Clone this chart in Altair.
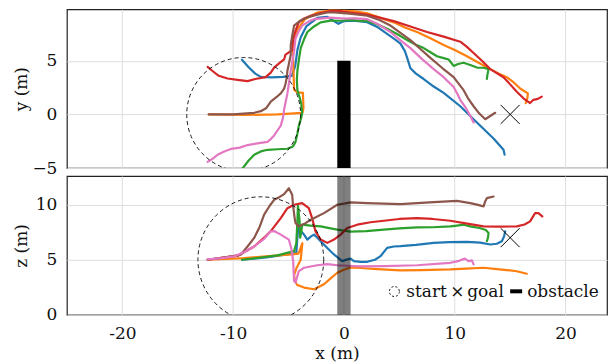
import altair as alt
import pandas as pd

FONT = "DejaVu Serif"
RUNS = ["run 1", "run 2", "run 3", "run 4", "run 5", "run 6"]
COLORS = ["#1f77b4", "#ff7f0e", "#2ca02c", "#d62728", "#8c564b", "#e377c2"]

X_TICKS = [-20, -10, 0, 10, 20]
Y_TICKS = [-5, 0, 5]
Z_TICKS = [0, 5, 10]

# ---------- top panel: (x, y) of each run ----------
blue_xy = [(-9.2, 5.1), (-8.6, 4.4), (-8.0, 3.8), (-7.5, 3.5), (-6.5, 3.45), (-5.5, 3.5), (-4.7, 3.6),
           (-4.4, 4.5), (-4.2, 6.0), (-3.9, 7.2), (-3.4, 8.2), (-2.4, 9.0), (-1.5, 9.1), (-0.9, 8.7),
           (-0.5, 8.45), (0.0, 8.7), (0.9, 8.75), (2.1, 8.6), (3.1, 8.1), (3.9, 7.5), (4.6, 7.0),
           (5.1, 6.6), (5.5, 5.9), (5.7, 5.3), (6.0, 4.3), (6.5, 3.8), (7.2, 3.3), (8.1, 2.6),
           (9.0, 2.0), (10.5, 0.76), (12.0, -0.75), (13.5, -2.25), (14.4, -3.3), (14.5, -3.75)]
orange_xy = [(-12.2, 0.0), (-9.0, -0.05), (-6.0, 0.0), (-4.5, 0.1), (-3.75, 0.15), (-3.65, 0.6),
             (-3.7, 2.0), (-4.2, 2.05), (-4.5, 2.3), (-4.55, 4.0), (-4.6, 5.5), (-4.55, 6.8),
             (-4.2, 7.9), (-3.5, 8.9), (-2.4, 9.5), (-1.2, 9.7), (0.0, 9.65), (1.0, 9.6), (2.1, 9.43),
             (3.3, 9.0), (4.5, 8.58), (5.5, 8.1), (6.6, 7.68), (7.8, 7.1), (9.0, 6.48), (10.0, 6.0),
             (11.1, 5.42), (12.2, 4.8), (13.2, 4.22), (14.0, 3.8), (14.7, 3.47), (15.3, 3.0),
             (15.9, 2.41), (16.6, 1.96), (16.55, 1.5), (16.4, 1.05)]
green_xy = [(-9.2, -5.1), (-8.6, -4.3), (-8.1, -3.76), (-7.5, -3.45), (-6.9, -3.3), (-6.0, -3.25),
            (-5.1, -3.2), (-4.6, -3.0), (-4.37, -2.56), (-4.2, -1.8), (-4.07, -1.05), (-3.85, -0.3),
            (-3.77, 0.15), (-3.85, 1.0), (-4.0, 1.6), (-4.2, 2.26), (-4.25, 3.2), (-4.2, 4.07),
            (-4.05, 5.2), (-3.9, 6.18), (-3.6, 7.0), (-3.3, 7.68), (-2.7, 8.2), (-2.1, 8.58),
            (-1.2, 8.75), (-0.3, 8.73), (0.5, 8.8), (1.2, 8.75), (2.1, 8.7), (3.0, 8.4), (3.9, 7.98),
            (4.8, 7.5), (5.7, 6.93), (6.5, 6.5), (7.2, 6.18), (7.8, 5.8), (8.4, 5.42), (9.0, 5.25),
            (9.45, 5.12), (9.9, 4.52), (10.3, 4.7), (10.8, 4.82), (11.4, 4.6), (12.0, 4.37),
            (12.6, 4.35), (13.05, 4.22), (12.95, 3.7), (12.9, 3.32)]
red_xy = [(-12.3, 4.43), (-11.8, 4.0), (-11.3, 3.6), (-10.5, 3.35), (-9.6, 3.22), (-8.7, 3.1),
          (-8.0, 3.3), (-7.07, 3.47), (-6.6, 3.9), (-6.3, 4.37), (-5.8, 4.8), (-5.4, 5.12),
          (-5.27, 5.57), (-4.67, 6.0), (-4.6, 6.8), (-4.5, 7.4), (-4.3, 8.0), (-4.07, 8.58),
          (-3.6, 8.95), (-3.0, 9.2), (-2.1, 9.45), (-1.2, 9.64), (-0.5, 9.65), (0.5, 9.5), (2.1, 9.3),
          (3.3, 9.0), (4.5, 8.7), (6.0, 8.2), (7.5, 7.68), (9.0, 7.25), (10.5, 6.78), (11.1, 6.3),
          (11.7, 5.72), (12.5, 4.95), (13.2, 4.22), (14.4, 3.47), (15.0, 2.8), (15.6, 2.11),
          (16.2, 1.5), (16.8, 1.06), (17.1, 1.36), (17.5, 1.45), (17.85, 1.66)]
brown_xy = [(-12.2, 0.0), (-10.0, 0.0), (-8.1, 0.15), (-7.5, 0.3), (-7.0, 0.6), (-6.6, 1.2),
            (-6.1, 1.6), (-5.7, 1.96), (-5.4, 2.4), (-5.27, 2.86), (-5.15, 3.5), (-5.1, 4.07),
            (-4.95, 4.8), (-4.8, 5.57), (-4.8, 6.5), (-4.65, 7.4), (-4.5, 8.28), (-4.0, 8.7),
            (-3.3, 9.03), (-2.4, 9.3), (-1.5, 9.5), (-0.9, 9.5), (0.5, 9.4), (2.1, 9.2), (3.2, 8.8),
            (4.2, 8.28), (5.1, 7.6), (6.0, 6.93), (6.9, 6.1), (7.8, 5.27), (8.9, 4.3), (9.9, 3.47),
            (10.4, 2.8), (10.8, 2.26), (11.2, 1.5), (11.7, 0.76), (12.2, 0.1), (12.75, -0.45),
            (13.2, -0.15), (13.65, 0.15)]
pink_xy = [(-12.3, -4.43), (-11.8, -4.1), (-11.4, -3.76), (-10.8, -3.45), (-10.2, -3.22), (-9.4, -3.1),
           (-8.7, -2.86), (-7.8, -2.7), (-6.9, -2.56), (-6.6, -2.3), (-6.3, -1.96), (-6.0, -1.5),
           (-5.7, -1.05), (-5.5, -0.3), (-5.4, 0.45), (-5.25, 1.2), (-5.1, 1.96), (-4.95, 3.0),
           (-4.8, 4.07), (-4.65, 5.0), (-4.5, 5.87), (-4.37, 7.08), (-4.1, 7.7), (-3.77, 8.28),
           (-3.2, 8.65), (-2.7, 8.88), (-1.2, 9.03), (0.0, 8.94), (1.0, 8.95), (2.1, 8.88), (3.1, 8.4),
           (4.2, 7.68), (5.1, 6.9), (6.0, 6.18), (7.0, 5.2), (8.1, 4.22), (9.0, 3.47), (9.9, 2.56),
           (10.2, 2.0), (10.5, 1.36), (11.0, 0.6), (11.25, 0.15), (11.7, -0.75)]

# ---------- bottom panel: (x, z) of each run ----------
blue_xz = [(-9.2, 5.0), (-7.0, 5.2), (-5.0, 5.5), (-4.3, 5.6), (-4.2, 7.0), (-4.1, 8.2), (-3.9, 7.6),
           (-3.6, 7.28), (-3.3, 6.83), (-3.0, 7.1), (-2.7, 7.28), (-2.4, 7.0), (-2.1, 6.68),
           (-1.5, 6.07), (-0.9, 5.48), (-0.16, 4.87), (0.3, 5.03), (0.6, 5.1), (0.9, 4.87), (1.5, 4.8),
           (2.1, 4.81), (2.8, 5.0), (3.3, 5.32), (3.9, 6.07), (4.5, 6.2), (5.1, 6.23), (6.5, 6.35),
           (8.1, 6.53), (9.5, 6.6), (11.1, 6.62), (12.3, 6.55), (13.2, 6.38), (13.8, 6.45),
           (14.25, 6.68), (14.45, 7.1), (14.55, 7.58)]
orange_xz = [(-12.2, 5.0), (-9.0, 5.15), (-6.5, 5.35), (-4.5, 5.5), (-4.1, 5.55), (-3.75, 6.5),
             (-3.9, 5.0), (-4.3, 4.2), (-4.5, 3.6), (-4.4, 3.0), (-4.2, 2.7), (-3.6, 2.47),
             (-2.7, 2.32), (-1.8, 2.77), (-1.2, 3.3), (-0.6, 3.82), (0.0, 4.1), (0.6, 4.3), (1.5, 4.25),
             (3.0, 4.15), (5.1, 4.03), (7.0, 4.05), (9.6, 4.12), (11.0, 4.2), (12.6, 4.27), (13.8, 4.15),
             (14.7, 4.06), (15.6, 3.95), (16.5, 3.73)]
green_xz = [(-9.2, 5.0), (-7.5, 5.2), (-6.0, 5.4), (-4.5, 5.78), (-4.3, 6.5), (-4.2, 8.5),
            (-4.15, 9.9), (-4.0, 8.5), (-3.95, 7.0), (-3.85, 7.5), (-3.77, 8.18), (-3.0, 8.1),
            (-2.1, 8.03), (-1.2, 7.85), (-0.6, 7.73), (0.6, 7.55), (2.0, 7.6), (3.6, 7.73), (5.0, 7.85),
            (6.6, 7.94), (8.0, 7.95), (9.6, 8.03), (10.2, 8.1), (10.8, 8.18), (11.5, 8.0),
            (12.25, 7.88), (12.8, 7.7), (13.05, 7.43), (13.0, 7.0), (12.9, 6.68)]
red_xz = [(-12.3, 5.0), (-9.5, 5.4), (-8.1, 6.2), (-7.2, 7.0), (-6.6, 7.6), (-5.7, 8.78), (-5.1, 9.68),
          (-4.5, 9.99), (-3.77, 10.14), (-3.17, 9.68), (-2.87, 8.78), (-2.57, 7.58), (-2.1, 6.83),
          (-1.5, 6.53), (-0.9, 6.83), (-0.3, 7.28), (0.3, 7.88), (1.2, 8.18), (2.4, 8.4), (3.6, 8.54),
          (5.0, 8.7), (6.6, 8.78), (8.0, 8.7), (9.6, 8.54), (11.0, 8.3), (12.6, 8.03), (14.0, 8.0),
          (15.6, 8.03), (16.3, 8.2), (16.8, 8.48), (17.25, 9.23), (17.55, 9.23), (17.9, 8.93)]
brown_xz = [(-12.3, 5.0), (-9.5, 5.4), (-9.3, 5.48), (-8.7, 6.2), (-8.1, 6.98), (-7.6, 8.0),
            (-7.2, 9.09), (-6.7, 9.9), (-6.3, 10.44), (-5.8, 10.7), (-5.4, 10.95), (-4.97, 11.49),
            (-4.67, 10.9), (-4.6, 10.0), (-4.45, 8.8), (-4.37, 8.33), (-4.07, 8.03), (-3.5, 8.3),
            (-3.0, 8.63), (-1.8, 9.23), (-0.6, 9.99), (0.6, 10.2), (2.1, 10.14), (5.1, 10.05),
            (8.1, 10.23), (10.2, 10.35), (11.4, 10.14), (12.0, 10.0), (12.6, 9.84), (12.75, 10.3),
            (12.9, 10.59), (13.5, 10.74)]
pink_xz = [(-12.3, 5.03), (-11.0, 5.15), (-9.9, 5.3), (-9.0, 5.7), (-8.1, 6.2), (-7.2, 6.9),
           (-6.6, 7.58), (-6.3, 7.6), (-5.7, 7.28), (-4.97, 6.83), (-4.76, 6.07), (-4.58, 4.87),
           (-4.5, 3.07), (-4.37, 2.92), (-4.07, 3.97), (-3.6, 4.27), (-2.4, 4.5), (-1.5, 4.6),
           (-0.6, 4.5), (0.3, 4.45), (1.5, 4.4), (3.6, 4.42), (6.6, 4.5), (9.6, 4.72), (10.4, 4.9),
           (10.9, 5.1), (11.25, 4.87), (11.55, 4.94), (11.7, 4.57)]

START_XY = [-9.05, 0.0]
START_XZ = [-7.5, 5.0]
GOAL_XY = [15.0, 0.0]
GOAL_XZ = [15.0, 7.0]
OBSTACLE_X = [-0.6, 0.6]
OBSTACLE_Y = [-5.0, 5.0]
Z_RANGE = [0.0, 12.6]

W = 541
H_TOP = 159
H_BOT = 139


def paths_df(paths, col):
    rows = []
    for run, pts in zip(RUNS, paths):
        for i, (a, b) in enumerate(pts):
            rows.append({"run": run, "i": i, "x": a, col: b})
    return pd.DataFrame(rows)


top_df = paths_df([blue_xy, orange_xy, green_xy, red_xy, brown_xy, pink_xy], "y")
bot_df = paths_df([blue_xz, orange_xz, green_xz, red_xz, brown_xz, pink_xz], "z")

xscale = alt.Scale(domain=[-25, 23.74], nice=False, zero=False)
color = alt.Color("run:N", scale=alt.Scale(domain=RUNS, range=COLORS), legend=None)

x_top = alt.X("x:Q", scale=xscale,
              axis=alt.Axis(values=X_TICKS, labels=False, title=""))
y_top = alt.Y("y:Q", scale=alt.Scale(domain=[-5, 9.8], nice=False, zero=False),
              axis=alt.Axis(values=Y_TICKS, title="y (m)", titleX=-45, titleY=H_TOP / 2,
                            titleAngle=270, titleAlign="center", titleBaseline="middle"))
x_bot = alt.X("x:Q", scale=xscale,
              axis=alt.Axis(values=X_TICKS, title="x (m)", labelPadding=11, titlePadding=4,
                            labelExpr="datum.value < 0 ? '-' + (-datum.value) : '' + datum.value"))
z_bot = alt.Y("z:Q", scale=alt.Scale(domain=[0, 12.6], nice=False, zero=False),
              axis=alt.Axis(values=Z_TICKS, title="z (m)", titleX=-45, titleY=H_BOT / 2,
                            titleAngle=270, titleAlign="center", titleBaseline="middle"))

line_style = dict(strokeWidth=2.2, clip=True, strokeCap="round", strokeJoin="round")
cross = "M-1,-1L1,1M-1,1L1,-1"

# ----- top panel -----
top_obst = alt.Chart(pd.DataFrame({"x": [OBSTACLE_X[0]], "x2": [OBSTACLE_X[1]],
                                   "y": [OBSTACLE_Y[0]], "y2": [OBSTACLE_Y[1]]})).mark_rect(
    color="black").encode(x=x_top, x2="x2:Q", y=y_top, y2="y2:Q")
top_lines = alt.Chart(top_df).mark_line(**line_style).encode(
    x=x_top, y=y_top, color=color, detail="run:N", order="i:Q")
top_start = alt.Chart(pd.DataFrame({"x": [START_XY[0]], "y": [START_XY[1]]})).mark_point(
    shape="circle", size=12996, filled=False, stroke="black", strokeWidth=0.9,
    strokeDash=[4, 3], opacity=1, clip=True).encode(x=x_top, y=y_top)
top_goal = alt.Chart(pd.DataFrame({"x": [GOAL_XY[0]], "y": [GOAL_XY[1]]})).mark_point(
    shape=cross, size=361, filled=False, stroke="black", strokeWidth=1, opacity=1).encode(
    x=x_top, y=y_top)
top = alt.layer(top_obst, top_lines, top_start, top_goal).properties(width=W, height=H_TOP)

# ----- bottom panel -----
bot_lines = alt.Chart(bot_df).mark_line(**line_style).encode(
    x=x_bot, y=z_bot, color=color, detail="run:N", order="i:Q")
bot_obst = alt.Chart(pd.DataFrame({"x": [OBSTACLE_X[0]], "x2": [OBSTACLE_X[1]],
                                   "z": [Z_RANGE[0]], "z2": [Z_RANGE[1]]})).mark_rect(
    color="black", opacity=0.5).encode(x=x_bot, x2="x2:Q", y=z_bot, y2="z2:Q")
bot_start = alt.Chart(pd.DataFrame({"x": [START_XZ[0]], "z": [START_XZ[1]]})).mark_point(
    shape="circle", size=15876, filled=False, stroke="black", strokeWidth=0.9,
    strokeDash=[4, 3], opacity=1, clip=True).encode(x=x_bot, y=z_bot)
bot_goal = alt.Chart(pd.DataFrame({"x": [GOAL_XZ[0]], "z": [GOAL_XZ[1]]})).mark_point(
    shape=cross, size=361, filled=False, stroke="black", strokeWidth=1, opacity=1).encode(
    x=x_bot, y=z_bot)

one = alt.Data(values=[{}])
txt = dict(font=FONT, fontSize=17, color="#111", baseline="alphabetic")
leg_circle = alt.Chart(one).mark_point(shape="circle", size=100, filled=False, stroke="black",
                                       strokeWidth=0.9, strokeDash=[2, 2], opacity=1).encode(
    x=alt.value(328), y=alt.value(115.7))
leg_start = alt.Chart(one).mark_text(text="start", align="left", **txt).encode(
    x=alt.value(340), y=alt.value(121))
leg_x = alt.Chart(one).mark_text(text="×", align="center", **txt).encode(
    x=alt.value(391), y=alt.value(121))
leg_goal = alt.Chart(one).mark_text(text="goal", align="left", **txt).encode(
    x=alt.value(401), y=alt.value(121))
leg_bar = alt.Chart(one).mark_rect(color="black").encode(
    x=alt.value(444), x2=alt.value(456), y=alt.value(113.5), y2=alt.value(117.5))
leg_obst = alt.Chart(one).mark_text(text="obstacle", align="left", **txt).encode(
    x=alt.value(461), y=alt.value(121))

bottom = alt.layer(bot_lines, bot_obst, bot_start, bot_goal, leg_circle, leg_start, leg_x,
                   leg_goal, leg_bar, leg_obst).properties(width=W, height=H_BOT)

chart = alt.vconcat(top, bottom, spacing=8, bounds="flush").properties(
    padding={"left": 4, "top": 0, "right": 0, "bottom": 0}
).configure_view(stroke="#222", strokeWidth=1.2).configure_axis(
    labelFont=FONT, titleFont=FONT, labelFontSize=17, titleFontSize=17,
    labelColor="#111", titleColor="#111", titleFontWeight="normal",
    gridColor="#dedede", gridWidth=1, ticks=False, domain=False,
    labelPadding=10, labelFlush=False
)

chart.save("out.html", embed_options={"renderer": "svg", "actions": False})
